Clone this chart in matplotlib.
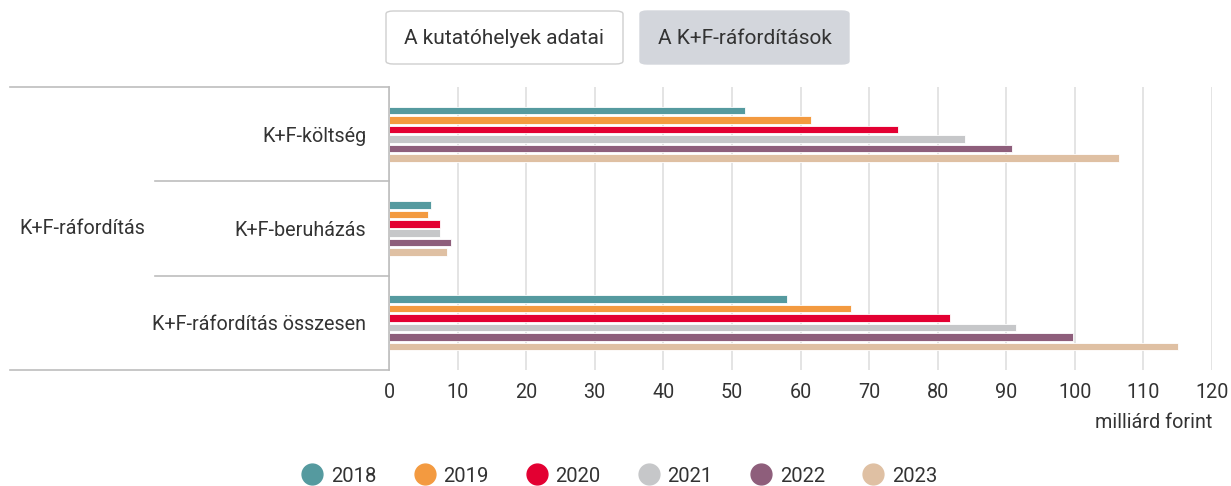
import matplotlib
matplotlib.use('Agg')
import matplotlib.pyplot as plt
from matplotlib.lines import Line2D
from matplotlib.patches import FancyBboxPatch
from matplotlib.transforms import blended_transform_factory
import numpy as np

plt.rcParams['font.family'] = ['Roboto', 'DejaVu Sans']

# adatok (milliárd forint)
kategoriak = ['K+F-költség', 'K+F-beruházás', 'K+F-ráfordítás összesen']
csoport = 'K+F-ráfordítás'
evek = ['2018', '2019', '2020', '2021', '2022', '2023']
koltseg = [51.9, 61.5, 74.2, 84.0, 90.8, 106.4]
beruhazas = [6.1, 5.7, 7.5, 7.4, 9.0, 8.4]
osszesen = [58.1, 67.3, 81.8, 91.4, 99.7, 115.1]
szinek = ['#559a9f', '#f39a40', '#e30032', '#c6c7c9', '#8e5e7b', '#dfc0a3']
xtick_ertekek = list(range(0, 121, 10))

FS = 14.2
SZOVEG = '#333333'

W, H = 1231, 486
fig = plt.figure(figsize=(W / 100, H / 100), dpi=100)
ax = fig.add_axes([389 / W, 1 - 370 / H, (1212 - 389) / W, (370 - 87) / H])

ertekek = np.array([koltseg, beruhazas, osszesen])
y = np.arange(len(kategoriak))
bar_h = 0.08
for i, ev in enumerate(evek):
    ax.barh(y + (i - 2.5) * 0.1, ertekek[:, i], height=bar_h, color=szinek[i],
            edgecolor='white', linewidth=0.6, zorder=3, label=ev)

ax.set_xlim(0, 120)
ax.set_ylim(2.5, -0.5)
ax.set_xticks(xtick_ertekek)
ax.set_yticks(y)
ax.set_yticklabels(kategoriak)
ax.tick_params(axis='y', length=0, pad=16.5, labelsize=FS, labelcolor=SZOVEG)
ax.tick_params(axis='x', length=0, pad=9, labelsize=FS, labelcolor=SZOVEG)
ax.grid(axis='x', color='#e2e2e2', linewidth=1.3, zorder=0)
for s in ['top', 'right', 'bottom']:
    ax.spines[s].set_visible(False)
ax.spines['left'].set_color('#bdbdbd')
ax.spines['left'].set_linewidth(1.2)
ax.spines['left'].set_zorder(4)
ax.set_xlabel('milliárd forint', loc='right', fontsize=FS, color=SZOVEG, labelpad=8)

# hierarchikus tengelyfelirat vonalai
tr = blended_transform_factory(fig.transFigure, ax.transData)
for yy, x0 in [(-0.5, 10), (0.5, 155), (1.5, 155), (2.5, 10)]:
    fig.add_artist(Line2D([x0 / W, 389 / W], [yy, yy], transform=tr,
                          color='#bdbdbd', linewidth=1.2, clip_on=False))
fig.text(19 / W, 1, csoport, transform=tr, ha='left', va='center',
         fontsize=FS, color=SZOVEG)

# gombok felül
gombok = [('A kutatóhelyek adatai', 386, 623, 'white'),
          ('A K+F-ráfordítások', 640, 849, '#d3d6dc')]
for txt, x0, x1, fc in gombok:
    ec = '#cfcfcf' if fc == 'white' else fc
    fig.add_artist(FancyBboxPatch((x0 / W, 1 - 64 / H), (x1 - x0) / W, 53 / H,
                                  boxstyle='round,pad=0,rounding_size=0.006',
                                  transform=fig.transFigure, facecolor=fc,
                                  edgecolor=ec, linewidth=1))
    fig.text((x0 + x1) / 2 / W, 1 - 38 / H, txt, ha='center', va='center',
             fontsize=15, color=SZOVEG)

# jelmagyarázat
handles = [Line2D([], [], marker='o', linestyle='none', markersize=15,
                  markerfacecolor=c, markeredgecolor=c) for c in szinek]
fig.legend(handles, evek, loc='center', bbox_to_anchor=(0.503, 1 - 476 / H),
           ncol=6, frameon=False, fontsize=14.6, handletextpad=0.35,
           columnspacing=1.85, labelcolor=SZOVEG, handlelength=1.1)

fig.savefig('out.png', dpi=100)
